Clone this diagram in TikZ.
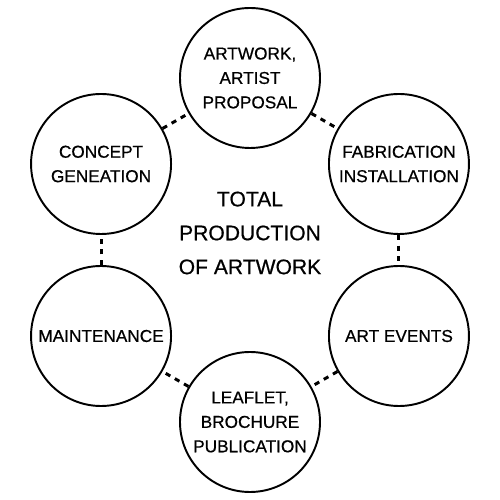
\documentclass[tikz,border=0pt]{standalone}
\usepackage{fontspec}
\setmainfont[FakeBold=0.6,AutoFakeBold=0.6]{Liberation Sans}
\usepackage{tikz}

\begin{document}
\begin{tikzpicture}[font=\bfseries\fontsize{9.8}{13.9}\selectfont,
    stage/.style={draw,circle,line width=1.1pt,minimum size=2.8cm,inner sep=0pt,align=center},
    link/.style={line width=1.7pt,dash pattern=on 3pt off 3pt}]
  \useasboundingbox (-5,-5) rectangle (5,5);
  \node[stage] (artwork) at (90:3.44) {ARTWORK,\\ARTIST\\PROPOSAL};
  \node[stage] (fabric) at (30:3.44) {FABRICATION\\INSTALLATION};
  \node[stage] (events) at (-30:3.44) {ART EVENTS};
  \node[stage] (leaflet) at (-90:3.44) {LEAFLET,\\BROCHURE\\PUBLICATION};
  \node[stage] (maint) at (210:3.44) {MAINTENANCE};
  \node[stage] (concept) at (150:3.44) {CONCEPT\\GENEATION};
  \node[align=center,font=\bfseries\fontsize{12}{19.3}\selectfont] (total) at (0,0.34) {TOTAL\\PRODUCTION\\OF ARTWORK};
  \draw[link] (artwork) -- (fabric);
  \draw[link] (fabric) -- (events);
  \draw[link] (events) -- (leaflet);
  \draw[link] (leaflet) -- (maint);
  \draw[link] (maint) -- (concept);
  \draw[link] (concept) -- (artwork);
\end{tikzpicture}
\end{document}
